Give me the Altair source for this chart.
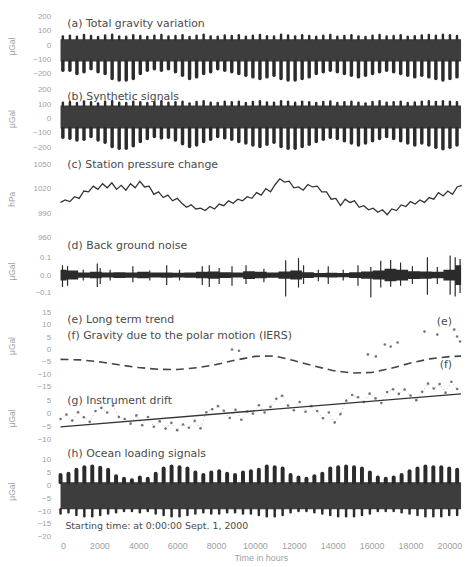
import altair as alt
import pandas as pd

T_END = 20600
FONT = "Liberation Sans"
LABEL_FONT = "DejaVu Sans"
INK = "#2b2b2b"
BODY = "#3d3d3d"
AXIS_GREY = "#a0a0a0"
TEXT_INK = "#4a4a4a"

# ---------------- (a) Total gravity variation (uGal) ----------------
a_spike_lo = [-175, -175, -198, -186, -164, -186, -198, -232, -243, -243, -232, -198,
              -175, -164, -175, -164, -186, -209, -232, -221, -198, -186, -164, -175,
              -186, -198, -209, -221, -232, -221, -209, -232, -243, -243, -232, -221,
              -198, -186, -175, -186, -198, -209, -221, -209, -198, -186, -175, -186,
              -198, -209, -221, -209, -221, -232, -243, -232, -221]
a_spike_hi = [60, 65, 58, 70, 62, 55, 66, 72, 60, 58, 68, 63, 57, 65, 70, 59, 62, 67,
              55, 64, 71, 60, 58, 66, 62, 68, 57, 65, 70, 61, 59, 72, 66, 60, 68, 63,
              57, 64, 69, 58, 62, 67, 60, 55, 65, 70, 59, 63, 68, 57, 61, 66, 70, 64,
              72, 67, 62]
a_body = [-115, 40]
a_ticks = [200, 100, 0, -100, -200]

# ---------------- (b) Synthetic signals (uGal) ----------------
b_spike_lo = [-130, -138, -150, -145, -125, -150, -165, -195, -207, -207, -190, -160,
              -140, -125, -135, -130, -150, -175, -195, -185, -160, -145, -125, -135,
              -145, -160, -170, -185, -195, -180, -165, -195, -207, -207, -195, -180,
              -160, -145, -130, -140, -155, -170, -185, -170, -155, -140, -125, -140,
              -155, -170, -185, -170, -185, -200, -210, -200, -185]
b_spike_hi = [110, 115, 108, 118, 112, 105, 116, 120, 110, 108, 117, 113, 107, 115, 119,
              109, 112, 116, 105, 114, 120, 110, 108, 116, 112, 117, 107, 115, 119, 111,
              109, 120, 116, 110, 117, 113, 107, 114, 118, 108, 112, 116, 110, 105, 115,
              119, 109, 113, 117, 107, 111, 116, 119, 114, 120, 116, 112]
b_body = [-70, 90]
b_ticks = [200, 100, 0, -100, -200]

# ---------------- (c) Station pressure change (hPa), every 240 h ----------------
c_pressure = [1003, 1006, 1004, 1010, 1008, 1017, 1016, 1023, 1019, 1026, 1021, 1027,
              1019, 1024, 1018, 1026, 1021, 1029, 1022, 1023, 1013, 1016, 1009, 1012,
              1005, 1008, 1002, 997, 1000, 995, 996, 993, 998, 995, 1001, 999, 1005,
              1002, 1007, 1005, 1010, 1008, 1015, 1012, 1020, 1016, 1025, 1032, 1028,
              1029, 1021, 1022, 1018, 1025, 1022, 1023, 1016, 1016, 1007, 1008, 999,
              1007, 1003, 1005, 997, 999, 994, 996, 991, 994, 988, 995, 993, 1000, 998,
              1004, 1001, 1006, 1003, 1009, 1007, 1015, 1011, 1017, 1013, 1022, 1024]
c_ticks = [1050, 1020, 990, 960]

# ---------------- (d) Back ground noise (uGal) ----------------
d_band_half = [0.030, 0.025, 0.015, 0.018, 0.014, 0.016, 0.015, 0.018, 0.014, 0.015,
               0.013, 0.015, 0.018, 0.020, 0.016, 0.014, 0.022, 0.018, 0.015, 0.020,
               0.025, 0.016, 0.012, 0.013, 0.012, 0.016, 0.020, 0.025, 0.035, 0.030,
               0.022, 0.020, 0.018, 0.030, 0.055]
d_spike_t = [100, 360, 1170, 1890, 2040, 2550, 3720, 4590, 5460, 6120, 7290, 7650, 8160,
             8820, 9540, 10460, 11580, 12240, 12500, 13260, 13770, 14540, 15300, 15960,
             16470, 16980, 17490, 18100, 18870, 19380, 20040, 20300, 20550]
d_spike_hi = [0.055, 0.05, 0.03, 0.065, 0.04, 0.03, 0.05, 0.025, 0.055, 0.03, 0.05, 0.055,
              0.04, 0.05, 0.055, 0.035, 0.083, 0.095, 0.055, 0.03, 0.05, 0.03, 0.055,
              0.045, 0.08, 0.085, 0.07, 0.05, 0.10, 0.045, 0.11, 0.10, 0.09]
d_spike_lo = [-0.067, -0.06, -0.03, -0.067, -0.05, -0.03, -0.04, -0.03, -0.055, -0.03,
              -0.055, -0.067, -0.05, -0.06, -0.05, -0.04, -0.12, -0.07, -0.05, -0.035,
              -0.05, -0.03, -0.06, -0.125, -0.07, -0.065, -0.06, -0.05, -0.11, -0.05,
              -0.11, -0.12, -0.10]
d_ticks = [0.1, 0.0, -0.1]

# ---------------- (e) long term trend, (f) polar motion (uGal) ----------------
f_t = [0, 1000, 2000, 3000, 4000, 5000, 6000, 7000, 8000, 9000, 10000, 11000, 12000,
       13000, 14000, 15000, 16000, 17000, 18000, 19000, 20000, 20600]
f_v = [-4.0, -4.2, -5.0, -6.2, -7.3, -8.0, -8.1, -7.4, -6.1, -4.3, -2.8, -2.6, -4.5,
       -6.6, -8.5, -9.5, -9.3, -7.6, -5.5, -3.8, -2.9, -2.7]
e_t = [8820, 9180, 15810, 16220, 16680, 16980, 17340, 18720, 19380, 20250, 20400, 20550]
e_v = [0.0, -0.5, -2.0, -2.8, 2.0, 1.2, 2.8, 7.2, 6.0, 8.0, 5.2, 3.2]
ef_ticks = [15, 10, 5, 0, -5, -10, -15]

# ---------------- (g) Instrument drift (uGal), points every 300 h ----------------
g_points = [-2.0, -0.3, -2.6, 0.6, -1.3, -3.1, 1.1, 2.3, 0.5, 3.2, -1.2, -2.0, -3.8,
            -0.6, -4.4, -1.2, -5.0, -2.9, -5.7, -3.5, -6.3, -4.1, -5.4, -2.7, -5.6, 0.6,
            1.8, 3.0, 1.2, -1.6, 1.6, -2.3, 0.9, 0.1, 3.3, 0.5, 2.7, 5.8, 7.0, 3.2, 1.4,
            4.6, 0.8, 3.0, 1.1, -1.7, 0.5, -3.3, -0.1, 5.1, 7.3, 6.4, 4.6, 7.8, 6.0, 4.2,
            8.4, 9.5, 7.7, 9.4, 7.1, 5.3, 8.5, 11.7, 9.8, 11.5, 8.2, 12.4, 9.6]
g_line_t = [0, 20600]
g_line_v = [-5.0, 7.7]
g_ticks = [5, 0, -5, -10]

# ---------------- (h) Ocean loading signals (uGal), every 408 h ----------------
h_spike_hi = [4, 4.5, 6, 7, 7.3, 6.8, 6, 3.5, 2.5, 2, 3, 2.5, 4.5, 6.5, 7.3, 7, 6.5, 5,
              4, 5, 5.5, 4.5, 4, 5, 5.5, 6, 7.3, 7, 6.5, 4, 3, 2.5, 3.5, 4.5, 6.5, 7, 7.3,
              7, 6.5, 5, 3, 2.5, 3, 4, 5.5, 6.5, 7.3, 7, 7, 6.5, 6]
h_spike_lo = [-11, -10.5, -11.5, -12, -12, -11.5, -11, -10.5, -10, -10, -10.5, -10, -11,
              -11.5, -12, -12, -11.5, -11, -10.5, -11, -11, -10.5, -10.5, -11, -11, -11.5,
              -12, -12, -11.5, -10.5, -10, -10, -10.5, -11, -11.5, -12, -12, -12, -11.5,
              -11, -10, -10, -10, -10.5, -11, -11.5, -12, -12, -12, -11.5, -11.5]
h_body = [-9.3, 1.2]
h_ticks = [10, 5, 0, -5, -10, -15, -20]

x_ticks = [0, 2000, 4000, 6000, 8000, 10000, 12000, 14000, 16000, 18000, 20000]

# ---------------- helpers ----------------
XS = alt.Scale(domain=[0, T_END], nice=False, zero=False)


def yaxis(values, title, fmt="d"):
    return alt.Axis(values=values, title=title, format=fmt, grid=False, domain=False,
                    ticks=False, labelColor=AXIS_GREY, labelFontSize=8, labelFont=FONT,
                    labelPadding=10, titleColor=AXIS_GREY, titleFontSize=8.5,
                    titleFont=FONT, titleFontWeight="normal", titlePadding=4,
                    minExtent=40, maxExtent=40, labelOverlap=False)


X_AXIS = alt.Axis(values=x_ticks, format="d", title="Time in hours", grid=False,
                  domain=False, ticks=False, labelColor=AXIS_GREY, labelFontSize=9,
                  labelFont=FONT, labelPadding=4, titleColor=AXIS_GREY, titleFontSize=9,
                  titleFont=FONT, titleFontWeight="normal", titlePadding=3,
                  labelOverlap=False)


def enc_x(xax, field="t"):
    return alt.X(f"{field}:Q", scale=XS, axis=xax)


def enc_y(field, dom, yax):
    return alt.Y(f"{field}:Q", scale=alt.Scale(domain=dom, nice=False, zero=False), axis=yax)


def labels(df, dom, yax, xax, size=11):
    return alt.Chart(df).mark_text(align="left", baseline="middle", font=LABEL_FONT,
                                   fontSize=size, color=TEXT_INK).encode(
        x=enc_x(xax), y=enc_y("v", dom, yax), text="label:N")


def tidal(spike_lo, spike_hi, body, t0, dt, dom, yax, xax, w_down, w_up):
    n = min(len(spike_lo), len(spike_hi))
    sp = pd.DataFrame({"t": [t0 + dt * i for i in range(n)],
                       "lo": spike_lo[:n], "hi": spike_hi[:n],
                       "blo": [body[0]] * n, "bhi": [body[1]] * n})
    bd = pd.DataFrame({"t": [0], "t2": [T_END], "lo": [body[0]], "hi": [body[1]]})
    core = alt.Chart(bd).mark_rect(color=BODY).encode(
        x=enc_x(xax), x2="t2:Q", y=enc_y("lo", dom, yax), y2="hi:Q")
    down = alt.Chart(sp).mark_rule(color=INK, strokeWidth=w_down, strokeCap="round").encode(
        x=enc_x(xax), y=enc_y("lo", dom, yax), y2="blo:Q")
    up = alt.Chart(sp).mark_rule(color=INK, strokeWidth=w_up, strokeCap="round").encode(
        x=enc_x(xax), y=enc_y("hi", dom, yax), y2="bhi:Q")
    return [core, down, up]


W = 404

# (a)
dom_a = [-255, 240]
ax_a = yaxis(a_ticks, "μGal")
lab_a = pd.DataFrame({"t": [350], "v": [144], "label": ["(a)  Total gravity variation"]})
pa = alt.layer(*tidal(a_spike_lo, a_spike_hi, a_body, 120, 362, dom_a, ax_a, None, 3.5, 2.5),
               labels(lab_a, dom_a, ax_a, None)).properties(width=W, height=72)

# (b)
dom_b = [-255, 255]
ax_b = yaxis(b_ticks, "μGal")
lab_b = pd.DataFrame({"t": [350], "v": [152], "label": ["(b)  Synthetic signals"]})
pb = alt.layer(*tidal(b_spike_lo, b_spike_hi, b_body, 120, 362, dom_b, ax_b, None, 3.5, 2.5),
               labels(lab_b, dom_b, ax_b, None)).properties(width=W, height=74)

# (c)
dom_c = [954, 1061]
ax_c = yaxis(c_ticks, "hPa")
c_df = pd.DataFrame({"t": [240 * i for i in range(len(c_pressure))], "v": c_pressure})
lab_c = pd.DataFrame({"t": [350], "v": [1049], "label": ["(c)  Station pressure change"]})
pc = alt.layer(
    alt.Chart(c_df).mark_line(color="#333333", strokeWidth=1.3).encode(
        x=enc_x(None), y=enc_y("v", dom_c, ax_c)),
    labels(lab_c, dom_c, ax_c, None)).properties(width=W, height=88)

# (d)
dom_d = [-0.139, 0.183]
ax_d = yaxis(d_ticks, "μGal", ".1f")
d_band = pd.DataFrame({"t": [606 * i for i in range(len(d_band_half))],
                       "lo": [-h for h in d_band_half], "hi": d_band_half})
d_sp = pd.DataFrame({"t": d_spike_t, "lo": d_spike_lo, "hi": d_spike_hi})
lab_d = pd.DataFrame({"t": [350], "v": [0.165], "label": ["(d)  Back ground noise"]})
pd_ = alt.layer(
    alt.Chart(d_band).mark_area(color=INK, interpolate="step").encode(
        x=enc_x(None), y=enc_y("lo", dom_d, ax_d), y2="hi:Q"),
    alt.Chart(d_sp).mark_rule(color=INK, strokeWidth=1.2).encode(
        x=enc_x(None), y=enc_y("lo", dom_d, ax_d), y2="hi:Q"),
    labels(lab_d, dom_d, ax_d, None)).properties(width=W, height=58)

# (e)/(f)
dom_ef = [-16.8, 20]
ax_ef = yaxis(ef_ticks, "μGal")
f_df = pd.DataFrame({"t": f_t, "v": f_v})
e_df = pd.DataFrame({"t": e_t, "v": e_v})
lab_ef = pd.DataFrame({"t": [350, 350, 19350, 19500],
                       "v": [12, 5.6, 11.2, -6.3],
                       "label": ["(e)  Long term trend",
                                 "(f)  Gravity due to the polar motion (IERS)",
                                 "(e)", "(f)"]})
pef = alt.layer(
    alt.Chart(f_df).mark_line(color="#444444", strokeWidth=1.6, strokeDash=[8, 5]).encode(
        x=enc_x(None), y=enc_y("v", dom_ef, ax_ef)),
    alt.Chart(e_df).mark_circle(color="#666666", size=7, opacity=0.9).encode(
        x=enc_x(None), y=enc_y("v", dom_ef, ax_ef)),
    labels(lab_ef, dom_ef, ax_ef, None)).properties(width=W, height=92)

# (g)
dom_g = [-11.9, 8.8]
ax_g = yaxis(g_ticks, "μGal")
g_df = pd.DataFrame({"t": [300 * i for i in range(len(g_points))], "v": g_points})
gl_df = pd.DataFrame({"t": g_line_t, "v": g_line_v})
lab_g = pd.DataFrame({"t": [350], "v": [5], "label": ["(g)  Instrument drift"]})
pg = alt.layer(
    alt.Chart(g_df).mark_line(color="#888888", strokeWidth=0.6, strokeDash=[1, 3]).encode(
        x=enc_x(None), y=enc_y("v", dom_g, ax_g)),
    alt.Chart(g_df).mark_circle(color="#666666", size=7, opacity=0.9).encode(
        x=enc_x(None), y=enc_y("v", dom_g, ax_g)),
    alt.Chart(gl_df).mark_line(color="#333333", strokeWidth=1.3).encode(
        x=enc_x(None), y=enc_y("v", dom_g, ax_g)),
    labels(lab_g, dom_g, ax_g, None)).properties(width=W, height=54)

# (h)
dom_h = [-20.4, 15.8]
ax_h = yaxis(h_ticks, "μGal")
lab_h = pd.DataFrame({"t": [350], "v": [12.3], "label": ["(h)  Ocean loading signals"]})
lab_h2 = pd.DataFrame({"t": [250], "v": [-15.8],
                       "label": ["Starting time: at 0:00:00 Sept. 1, 2000"]})
ph = alt.layer(*tidal(h_spike_lo, h_spike_hi, h_body, 0, 408, dom_h, ax_h, X_AXIS, 2.5, 4),
               labels(lab_h, dom_h, ax_h, X_AXIS),
               labels(lab_h2, dom_h, ax_h, X_AXIS, size=9.5)).properties(width=W, height=94)

chart = alt.vconcat(pa, pb, pc, pd_, pef, pg, ph, spacing=0, bounds="flush").resolve_scale(
    x="independent", y="independent").properties(padding=0).configure_view(strokeWidth=0)

chart.save("out.html", embed_options={"renderer": "svg", "actions": False})
